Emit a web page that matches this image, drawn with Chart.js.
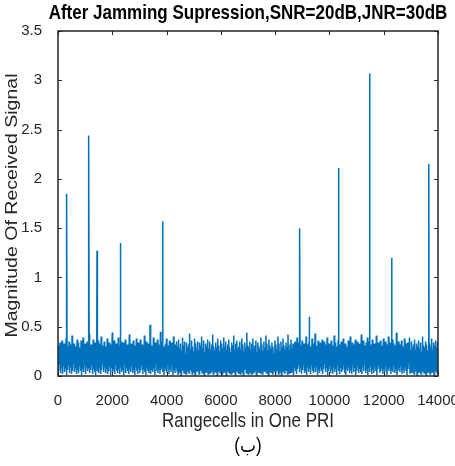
<!DOCTYPE html>
<html>
<head>
<meta charset="utf-8">
<script src="https://cdn.jsdelivr.net/npm/chart.js@4.4.1/dist/chart.umd.min.js"></script>
<style>
    body { margin: 0; background: #fff; }
    #wrap { width: 455px; height: 466px; }
</style>
</head>
<body>
<div id="wrap"><canvas id="chart" width="455" height="466"></canvas></div>
<script>
const titleText = 'After Jamming Supression,SNR=20dB,JNR=30dB';
const xLabel = 'Rangecells in One PRI';
const yLabel = 'Magnitude Of Received Signal';
const caption = '(ب)';

const xTicks = [0, 2000, 4000, 6000, 8000, 10000, 12000, 14000];
const yTicks = [0, 0.5, 1, 1.5, 2, 2.5, 3, 3.5];

// noise floor, one sample every 18.5 rangecells (first and second half of the PRI)
const noiseStep = 18.5;
const noiseFirstHalf = [
    0.31,0.05,0.27,0.12,0.34,0.03,0.22,0.08,0.36,0.02,0.29,0.10,0.33,0.04,0.25,0.07,0.38,0.01,0.30,0.06,
    0.26,0.11,0.35,0.03,0.32,0.09,0.28,0.02,0.41,0.05,0.24,0.13,0.33,0.04,0.30,0.08,0.27,0.02,0.37,0.06,
    0.34,0.03,0.29,0.10,0.23,0.05,0.36,0.01,0.31,0.07,0.39,0.04,0.26,0.12,0.33,0.02,0.28,0.09,0.35,0.05,
    0.30,0.08,0.43,0.03,0.27,0.06,0.32,0.11,0.25,0.02,0.37,0.07,0.29,0.04,0.34,0.01,0.31,0.10,0.22,0.05,
    0.36,0.03,0.28,0.08,0.33,0.02,0.40,0.06,0.26,0.12,0.31,0.04,0.35,0.09,0.24,0.03,0.30,0.07,0.38,0.02,
    0.27,0.05,0.34,0.10,0.29,0.01,0.32,0.08,0.44,0.04,0.25,0.06,0.36,0.02,0.28,0.11,0.33,0.05,0.30,0.03,
    0.39,0.07,0.26,0.02,0.31,0.09,0.35,0.04,0.23,0.06,0.34,0.01,0.29,0.12,0.37,0.03,0.27,0.08,0.32,0.05,
    0.30,0.02,0.42,0.07,0.28,0.04,0.33,0.10,0.25,0.03,0.36,0.06,0.31,0.01,0.27,0.09,0.38,0.05,0.24,0.02,
    0.34,0.08,0.29,0.03,0.37,0.06,0.26,0.11,0.32,0.02,0.30,0.07,0.41,0.04,0.28,0.01,0.35,0.09,0.23,0.05,
    0.33,0.03,0.27,0.10,0.36,0.02,0.31,0.06,0.29,0.04,0.39,0.08,0.25,0.01,0.34,0.12,0.30,0.05,0.37,0.03,
    0.28,0.07,0.32,0.02,0.45,0.06,0.26,0.09,0.35,0.04,0.30,0.01,0.27,0.08,0.33,0.05,0.38,0.03,0.24,0.11,
    0.31,0.02,0.36,0.07,0.29,0.04,0.34,0.10,0.27,0.01,0.40,0.06,0.32,0.03,0.25,0.09,0.35,0.05,0.30,0.02,
    0.37,0.08,0.28,0.04,0.33,0.01,0.26,0.11,0.39,0.06,0.31,0.03,0.35,0.07,0.23,0.02,0.34,0.09,0.29,0.05,
    0.32,0.03,0.43,0.06,0.27,0.10,0.36,0.02,0.30,0.08,0.25,0.04,0.38,0.01,0.33,0.07,0.28,0.05,0.35,0.12,
    0.26,0.02,0.34,0.06,0.31,0.09,0.40,0.03,0.29,0.05,0.36,0.01,0.24,0.08,0.33,0.04,0.30,0.11,0.37,0.02,
    0.28,0.07,0.35,0.03,0.27,0.05,0.32,0.10,0.42,0.02,0.30,0.06,0.26,0.04,0.34,0.09,0.29,0.01,0.38,0.05,
    0.31,0.08,0.25,0.03,0.36,0.06,0.33,0.02,0.28,0.11,0.39,0.04,0.30,0.07,0.35,0.01,0.27,0.05,0.32,0.09,
    0.37,0.03,0.29,0.06,0.24,0.02,0.34,0.10,0.31,0.04,0.41,0.07,0.26,0.01,0.33,0.05,0.36,0.08,0.28,0.03,
    0.30,0.06,0.35,0.02,0.27,0.09,0.38,0.04,0.32,0.01,0.25,0.07,0.34,0.11,0.29,0.03,0.44,0.05,0.31,0.02
];
const noiseSecondHalf = [
    0.29,0.04,0.35,0.09,0.26,0.02,0.33,0.07,0.38,0.03,0.28,0.11,0.31,0.05,0.36,0.01,0.24,0.08,0.34,0.04,
    0.30,0.10,0.27,0.03,0.39,0.06,0.32,0.02,0.25,0.09,0.35,0.05,0.29,0.12,0.41,0.03,0.33,0.07,0.26,0.01,
    0.37,0.06,0.31,0.04,0.28,0.10,0.34,0.02,0.30,0.08,0.23,0.05,0.36,0.03,0.32,0.11,0.27,0.06,0.40,0.02,
    0.33,0.07,0.25,0.04,0.35,0.01,0.29,0.09,0.38,0.05,0.31,0.03,0.27,0.12,0.34,0.06,0.30,0.02,0.42,0.08,
    0.26,0.03,0.32,0.10,0.37,0.04,0.28,0.06,0.33,0.01,0.24,0.09,0.35,0.05,0.30,0.02,0.39,0.07,0.27,0.11,
    0.34,0.04,0.29,0.08,0.31,0.02,0.36,0.06,0.25,0.10,0.33,0.03,0.28,0.05,0.40,0.01,0.32,0.09,0.26,0.04,
    0.35,0.07,0.30,0.02,0.27,0.11,0.38,0.05,0.33,0.03,0.29,0.08,0.43,0.04,0.26,0.10,0.31,0.01,0.36,0.06,
    0.28,0.03,0.34,0.09,0.24,0.05,0.37,0.02,0.30,0.07,0.35,0.12,0.27,0.04,0.32,0.08,0.39,0.01,0.29,0.05,
    0.33,0.10,0.26,0.03,0.36,0.06,0.31,0.02,0.28,0.09,0.41,0.04,0.34,0.07,0.25,0.01,0.30,0.11,0.37,0.05,
    0.27,0.02,0.32,0.08,0.35,0.04,0.29,0.06,0.38,0.10,0.26,0.03,0.33,0.01,0.30,0.07,0.24,0.05,0.36,0.09,
    0.31,0.03,0.40,0.06,0.28,0.02,0.34,0.11,0.27,0.04,0.32,0.08,0.37,0.01,0.29,0.05,0.35,0.10,0.25,0.03,
    0.33,0.07,0.30,0.04,0.42,0.02,0.26,0.09,0.36,0.05,0.31,0.12,0.28,0.03,0.34,0.06,0.39,0.01,0.27,0.08,
    0.35,0.04,0.29,0.10,0.32,0.02,0.37,0.06,0.24,0.03,0.33,0.09,0.30,0.05,0.41,0.01,0.28,0.07,0.34,0.11,
    0.26,0.03,0.36,0.05,0.31,0.08,0.29,0.02,0.38,0.06,0.27,0.04,0.35,0.10,0.32,0.01,0.25,0.07,0.40,0.05,
    0.30,0.09,0.34,0.02,0.28,0.06,0.37,0.04,0.33,0.11,0.26,0.03,0.31,0.07,0.44,0.01,0.29,0.05,0.35,0.08,
    0.27,0.04,0.32,0.10,0.36,0.02,0.30,0.06,0.25,0.03,0.38,0.09,0.33,0.05,0.28,0.01,0.34,0.07,0.31,0.12,
    0.39,0.03,0.26,0.06,0.35,0.04,0.29,0.08,0.32,0.02,0.37,0.10,0.27,0.05,0.33,0.01,0.30,0.09,0.36,0.04,
    0.28,0.07,0.34,0.02,0.25,0.11,0.40,0.05,0.31,0.03,0.29,0.06,0.35,0.01,0.32,0.08,0.26,0.04,0.37,0.10,
    0.33,0.02,0.30,0.06,0.38,0.04,0.27,0.09,0.34,0.01,0.31,0.05,0.36,0.07,0.29,0.03,0.35,0.11,0.32,0.04
];

// target returns standing out of the noise
const spikeCells = [320, 1130, 1437, 2296, 3390, 3856, 8904, 9259, 10341, 11483, 12293, 13668];
const spikeValues = [1.85, 2.44, 1.27, 1.35, 0.52, 1.57, 1.50, 0.60, 2.11, 3.07, 1.20, 2.15];

const lineColor = '#0072BD';
const axisColor = '#262626';
const fontFamily = '"Liberation Sans", Arial, "DejaVu Sans", sans-serif';
const stretch = 1.15; // the source picture is a bit taller than wide

function buildSignal() {
    const noise = noiseFirstHalf.concat(noiseSecondHalf);
    const pts = noise.map((v, i) => ({ x: i * noiseStep, y: v }));
    spikeCells.forEach((c, i) => pts.push({ x: c, y: spikeValues[i] }));
    pts.sort((a, b) => a.x - b.x);
    return pts;
}

function drawText(ctx, text, x, y, font, color, rotate) {
    ctx.save();
    ctx.translate(x, y);
    if (rotate) {
        ctx.rotate(-Math.PI / 2);
        ctx.scale(stretch, 1);
    } else {
        ctx.scale(1, stretch);
    }
    ctx.font = font;
    ctx.fillStyle = color;
    ctx.textAlign = 'center';
    ctx.textBaseline = 'middle';
    ctx.fillText(text, 0, 0);
    ctx.restore();
}

// box, inward ticks on all four sides, titles
const matlabFrame = {
    id: 'matlabFrame',
    afterDraw(chart) {
        const ctx = chart.ctx;
        const area = chart.chartArea;
        const xs = chart.scales.x;
        const ys = chart.scales.y;
        const tl = 4;

        ctx.save();
        ctx.strokeStyle = axisColor;
        ctx.lineWidth = 1;
        ctx.beginPath();
        xs.ticks.forEach(t => {
            const px = Math.round(xs.getPixelForValue(t.value)) + 0.5;
            ctx.moveTo(px, area.bottom); ctx.lineTo(px, area.bottom - tl);
            ctx.moveTo(px, area.top); ctx.lineTo(px, area.top + tl);
        });
        ys.ticks.forEach(t => {
            const py = Math.round(ys.getPixelForValue(t.value)) + 0.5;
            ctx.moveTo(area.left, py); ctx.lineTo(area.left + tl, py);
            ctx.moveTo(area.right, py); ctx.lineTo(area.right - tl, py);
        });
        ctx.stroke();
        ctx.lineWidth = 1.5;
        ctx.strokeRect(area.left, area.top, area.right - area.left, area.bottom - area.top);
        ctx.restore();

        const cx = (area.left + area.right) / 2;
        drawText(ctx, titleText, cx, 13.5, 'bold 17px ' + fontFamily, '#000', false);
        drawText(ctx, xLabel, cx, 422, '17px ' + fontFamily, axisColor, false);
        drawText(ctx, yLabel, 12, (area.top + area.bottom) / 2 + 2, '17px ' + fontFamily, axisColor, true);
        drawText(ctx, caption, cx, 447, '17px ' + fontFamily, '#000', false);
    }
};

new Chart(document.getElementById('chart'), {
    type: 'line',
    data: {
        datasets: [{
            data: buildSignal(),
            borderColor: lineColor,
            borderWidth: 1.5,
            pointRadius: 0,
            tension: 0,
            fill: false
        }]
    },
    options: {
        responsive: false,
        animation: false,
        layout: { padding: { left: 0, right: 17, top: 31, bottom: 0 } },
        plugins: {
            legend: { display: false },
            tooltip: { enabled: false }
        },
        scales: {
            x: {
                type: 'linear',
                min: 0,
                max: 14000,
                afterBuildTicks: s => { s.ticks = xTicks.map(v => ({ value: v })); },
                afterFit: s => { s.height = 90; s.paddingLeft = 0; s.paddingRight = 0; },
                grid: { display: false },
                border: { display: false },
                ticks: {
                    padding: 8,
                    maxRotation: 0,
                    color: axisColor,
                    font: { family: fontFamily, size: 15 },
                    callback: v => String(v)
                }
            },
            y: {
                min: 0,
                max: 3.5,
                afterBuildTicks: s => { s.ticks = yTicks.map(v => ({ value: v })); },
                afterFit: s => { s.width = 58; s.paddingTop = 0; s.paddingBottom = 0; },
                grid: { display: false },
                border: { display: false },
                ticks: {
                    padding: 8,
                    color: axisColor,
                    font: { family: fontFamily, size: 15 },
                    callback: v => String(v)
                }
            }
        }
    },
    plugins: [matlabFrame]
});
</script>
</body>
</html>
